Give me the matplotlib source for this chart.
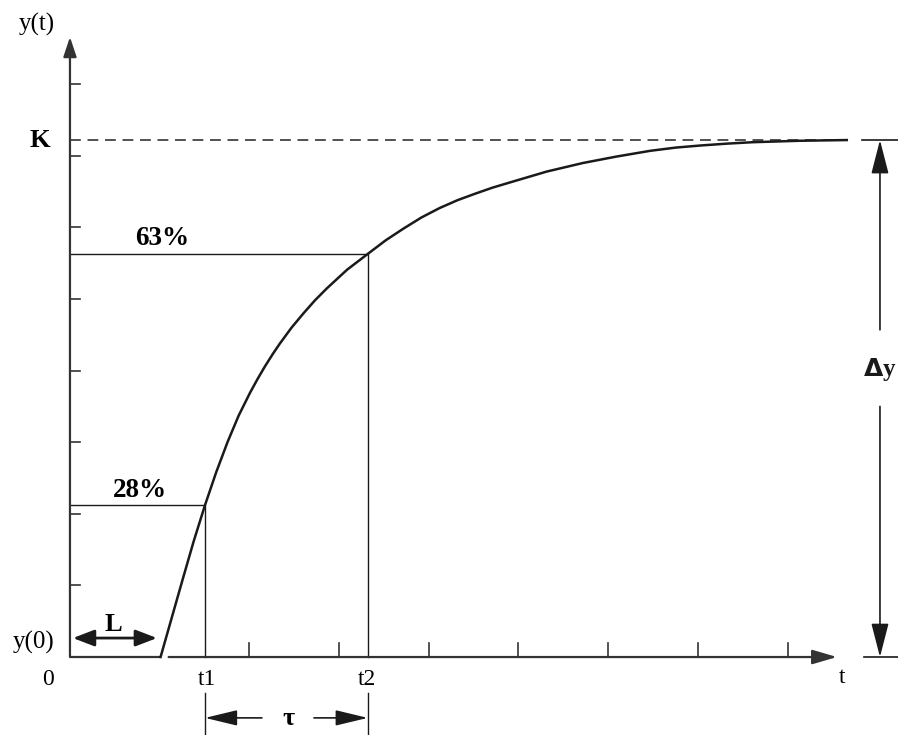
import matplotlib.pyplot as plt

# Step response with dead time (FOPDT sketch), values in axis tick units
curve_t = [1.01, 1.135, 1.26, 1.38, 1.505, 1.63, 1.756, 1.88, 2.007, 2.09,
           2.174, 2.26, 2.341, 2.47, 2.603, 2.73, 2.865, 3.09, 3.32, 3.52,
           3.72, 3.92, 4.12, 4.32, 4.515, 4.71, 4.91, 5.315, 5.72, 6.095,
           6.47, 6.755, 7.04, 7.325, 7.61, 8.135, 8.66]
curve_y = [0.00, 0.55, 1.10, 1.62, 2.12, 2.58, 3.00, 3.37, 3.69, 3.88,
           4.06, 4.23, 4.38, 4.60, 4.80, 4.98, 5.15, 5.41, 5.63, 5.82,
           5.985, 6.14, 6.27, 6.38, 6.47, 6.555, 6.63, 6.78, 6.90, 6.99,
           7.07, 7.115, 7.145, 7.17, 7.19, 7.21, 7.22]

K = 7.22
y63 = 5.63
y28 = 2.12
L = 1.0
t1 = 1.505
t2 = 3.32
x_ticks = [2, 3, 4, 5, 6, 7, 8]
y_ticks = [1, 2, 3, 4, 5, 6, 7, 8]

plt.rcParams['font.family'] = ['Liberation Serif', 'DejaVu Serif']
AX_C = '#333333'
LN_C = '#1a1a1a'


def arrow(ax, start, end, style='-|>', hl=0.6, hw=0.2, lw=1.4, color=AX_C):
    """Draw a straight arrow from start to end."""
    ax.annotate('', xy=end, xytext=start,
                arrowprops=dict(arrowstyle='%s,head_length=%s,head_width=%s' % (style, hl, hw),
                                lw=lw, color=color, shrinkA=0, shrinkB=0,
                                mutation_scale=20))


fig = plt.figure(figsize=(8.98, 7.35), dpi=100)
ax = fig.add_axes([0, 0, 1, 1])
ax.set_xlim(-0.780, 9.231)
ax.set_ylim(-1.089, 9.176)
ax.axis('off')

# axes
arrow(ax, (0, 0), (0, 8.66), lw=1.6)
ax.plot([0, L], [0, 0], color=AX_C, lw=1.6, solid_capstyle='butt')
arrow(ax, (1.10, 0), (8.55, 0), hl=0.75, hw=0.22, lw=1.6)
for yt in y_ticks:
    ax.plot([0, 0.11], [yt, yt], color=AX_C, lw=1.2)
for xt in x_ticks:
    ax.plot([xt, xt], [0, 0.2], color=AX_C, lw=1.2)

# steady state K
ax.plot([0, 8.64], [K, K], color=AX_C, lw=1.2, linestyle=(0, (6.5, 4)))

# response curve
ax.plot(curve_t, curve_y, color=LN_C, lw=1.8, solid_joinstyle='round')

# 63% and 28% construction lines
ax.plot([0, t2, t2], [y63, y63, 0], color=LN_C, lw=1.0)
ax.plot([0, t1, t1], [y28, y28, 0], color=LN_C, lw=1.0)

# delta y dimension
ax.plot([8.83, 9.231], [K, K], color=LN_C, lw=1.2)
ax.plot([8.85, 9.231], [0, 0], color=LN_C, lw=1.2)
arrow(ax, (9.03, 4.57), (9.03, K), hl=1.05, hw=0.27, lw=1.2, color=LN_C)
arrow(ax, (9.03, 3.50), (9.03, 0), hl=1.05, hw=0.27, lw=1.2, color=LN_C)
ax.text(9.03, 4.02, r'$\mathbf{\Delta}$y', fontsize=18, fontweight='bold',
        ha='center', va='center', color=LN_C)

# dead time L
arrow(ax, (0.033, 0.265), (0.97, 0.265), style='<|-|>', hl=0.65, hw=0.25, lw=2.0, color=LN_C)
ax.text(0.48, 0.46, 'L', fontsize=19, fontweight='bold', ha='center', va='center')

# tau dimension
ax.plot([t1, t1], [-0.50, -1.089], color=LN_C, lw=1.0)
ax.plot([t2, t2], [-0.50, -1.089], color=LN_C, lw=1.0)
arrow(ax, (2.14, -0.85), (t1, -0.85), hl=1.0, hw=0.24, lw=1.2, color=LN_C)
arrow(ax, (2.72, -0.85), (t2, -0.85), hl=1.0, hw=0.24, lw=1.2, color=LN_C)
ax.text(2.44, -0.86, 'τ', fontsize=19, fontweight='bold', ha='center', va='center')

# labels
ax.text(-0.368, 8.83, 'y(t)', fontsize=18, ha='center', va='center')
ax.text(-0.334, 7.21, 'K', fontsize=19, fontweight='bold', ha='center', va='center')
ax.text(1.026, 5.85, '63%', fontsize=19.5, fontweight='bold', ha='center', va='center')
ax.text(0.78, 2.33, '28%', fontsize=19.5, fontweight='bold', ha='center', va='center')
ax.text(-0.41, 0.20, 'y(0)', fontsize=18, ha='center', va='center')
ax.text(-0.245, -0.32, '0', fontsize=17, ha='center', va='center')
ax.text(1.527, -0.32, 't1', fontsize=17, ha='center', va='center')
ax.text(3.31, -0.32, 't2', fontsize=17, ha='center', va='center')
ax.text(8.61, -0.28, 't', fontsize=17, ha='center', va='center')

fig.savefig('out.png', dpi=100)
